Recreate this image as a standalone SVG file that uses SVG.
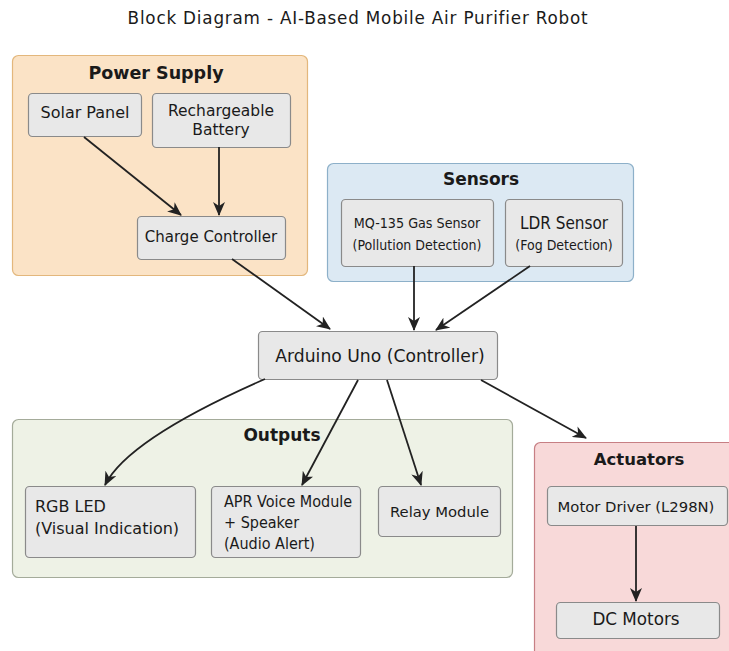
<svg xmlns="http://www.w3.org/2000/svg" width="729" height="651" viewBox="0 0 729 651">
<style>
text{font-family:"DejaVu Sans","Liberation Sans",sans-serif;fill:#1a1a1a;}
.t{font-size:15px;text-anchor:middle;}
.tl{font-size:16px;}
.os{font-family:"DejaVu Sans Condensed","Open Sans",sans-serif;}
.g{font-size:17px;font-weight:bold;text-anchor:middle;}
.box{fill:#e8e8e8;stroke:#8a8a8a;stroke-width:1.2;}
.c{fill:none;stroke:#222;stroke-width:1.8;}
</style>
<defs>
<marker id="ah" viewBox="0 0 14 12" refX="13" refY="6" markerWidth="14" markerHeight="12" markerUnits="userSpaceOnUse" orient="auto">
<path d="M0,0 L14,6 L0,12 L4,6 z" fill="#222"/>
</marker>
</defs>
<rect width="729" height="651" fill="#ffffff"/>
<text x="358" y="24" style="font-size:16.8px;letter-spacing:0.8px;text-anchor:middle">Block Diagram - AI-Based Mobile Air Purifier Robot</text>

<g id="power-supply">
<rect x="12.5" y="55.5" width="295" height="220" rx="6" fill="#fbe3c6" stroke="#e3b77c" stroke-width="1.2"/>
<text class="g" x="156" y="78.5" style="font-size:17.5px">Power Supply</text>
</g>
<g id="sensors">
<rect x="327.5" y="163.5" width="306" height="118" rx="6" fill="#dce9f3" stroke="#8db0c9" stroke-width="1.2"/>
<text class="g" x="481" y="184.5">Sensors</text>
</g>
<g id="outputs">
<rect x="12.5" y="419.5" width="500" height="158" rx="6" fill="#eef2e6" stroke="#a4ab9a" stroke-width="1.2"/>
<text class="g" x="282" y="440.5">Outputs</text>
</g>
<g id="actuators">
<rect x="534.5" y="442.5" width="220" height="230" rx="6" fill="#f8d9d9" stroke="#c77f84" stroke-width="1.2"/>
<text class="g" x="639" y="465" style="font-size:16.5px">Actuators</text>
</g>

<g id="solar-panel">
<rect class="box" x="28.5" y="93.5" width="113" height="43" rx="4"/>
<text class="t" x="85" y="118" style="font-size:16px">Solar Panel</text>
</g>
<g id="battery">
<rect class="box" x="152.5" y="93.5" width="138" height="54" rx="4"/>
<text class="t" x="221" y="116" style="font-size:15.5px">Rechargeable</text>
<text class="t" x="221" y="134.5" style="font-size:15.5px">Battery</text>
</g>
<g id="charge-controller">
<rect class="box" x="137.5" y="216.5" width="148" height="43" rx="4"/>
<text class="t" x="211" y="242">Charge Controller</text>
</g>
<g id="mq135">
<rect class="box" x="341.5" y="199.5" width="152" height="67" rx="4"/>
<text class="t os" x="417" y="228" style="font-size:14.2px">MQ-135 Gas Sensor</text>
<text class="t os" x="417" y="250" style="font-size:14px">(Pollution Detection)</text>
</g>
<g id="ldr">
<rect class="box" x="505.5" y="199.5" width="117" height="67" rx="4"/>
<text class="t os" x="564" y="229" style="font-size:17px">LDR Sensor</text>
<text class="t os" x="564" y="250" style="font-size:14px">(Fog Detection)</text>
</g>
<g id="arduino">
<rect class="box" x="258.5" y="331.5" width="239" height="48" rx="4"/>
<text class="t" x="380" y="361.5" style="font-size:17.2px">Arduino Uno (Controller)</text>
</g>
<g id="rgb-led">
<rect class="box" x="25.5" y="486.5" width="170" height="71" rx="4"/>
<text class="tl" x="35" y="512">RGB LED</text>
<text class="tl" x="35" y="534">(Visual Indication)</text>
</g>
<g id="apr-voice">
<rect class="box" x="211.5" y="486.5" width="149" height="71" rx="4"/>
<text class="tl os" x="224" y="507" style="font-size:16px">APR Voice Module</text>
<text class="tl os" x="224" y="528" style="font-size:16px">+ Speaker</text>
<text class="tl os" x="224" y="549" style="font-size:16px">(Audio Alert)</text>
</g>
<g id="relay">
<rect class="box" x="378.5" y="486.5" width="122" height="50" rx="4"/>
<text class="t" x="439.5" y="516.5" style="font-size:14.8px">Relay Module</text>
</g>
<g id="motor-driver">
<rect class="box" x="547.5" y="486.5" width="180" height="39" rx="4"/>
<text class="t" x="636" y="511.5" style="font-size:14.8px">Motor Driver (L298N)</text>
</g>
<g id="dc-motors">
<rect class="box" x="556.5" y="602.5" width="163" height="36" rx="4"/>
<text class="t" x="636" y="624.5" style="font-size:16.8px">DC Motors</text>
</g>

<g id="connectors">
<path class="c" d="M84,137 L181,215" marker-end="url(#ah)"/>
<path class="c" d="M219,147 L219,215" marker-end="url(#ah)"/>
<path class="c" d="M232,259 L330,329" marker-end="url(#ah)"/>
<path class="c" d="M414,266 L414,330" marker-end="url(#ah)"/>
<path class="c" d="M530,266 L436,330" marker-end="url(#ah)"/>
<path class="c" d="M265,379 Q128,439 105,485" marker-end="url(#ah)"/>
<path class="c" d="M358,380 L302,485" marker-end="url(#ah)"/>
<path class="c" d="M387,380 L421,485" marker-end="url(#ah)"/>
<path class="c" d="M481,380 L586,438" marker-end="url(#ah)"/>
<path class="c" d="M636,526 L636,601" marker-end="url(#ah)"/>
</g>
</svg>
